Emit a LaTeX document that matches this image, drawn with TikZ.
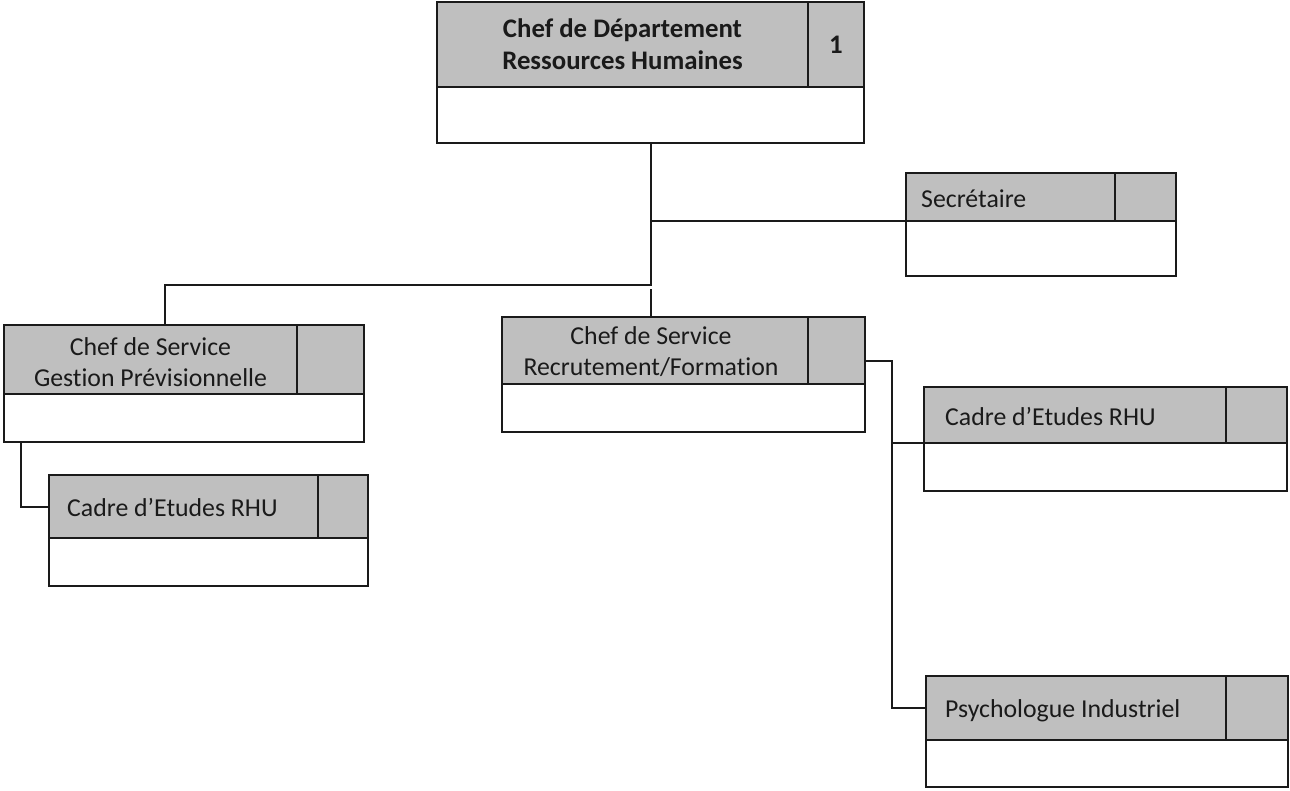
\documentclass[tikz,border=0pt]{standalone}
\usepackage{fontspec}
\setmainfont[Ligatures=NoCommon]{Carlito}
\usetikzlibrary{calc}
\definecolor{cellgray}{HTML}{BFBFBF}
\definecolor{ink}{HTML}{1A1A1A}
\tikzset{
  cell/.style={draw=ink, line width=2pt, inner sep=0pt, outer sep=0pt, anchor=north west},
  head/.style={cell, fill=cellgray},
  bodycell/.style={cell, fill=white},
  link/.style={draw=ink, line width=2pt},
  lbl/.style={text=ink, font=\fontsize{25.8}{31}\selectfont, inner sep=0pt},
  blbl/.style={text=ink, font=\fontsize{26.8}{32}\selectfont\bfseries, inner sep=0pt},
}
% one post: title cell, count cell, empty body below
% #1 name, #2 left x, #3 top y, #4 divider x, #5 right x, #6 header bottom y, #7 body bottom y
\newcommand{\orgpost}[7]{%
  \node[head, minimum width={(#4-#2)*1pt}, minimum height={(#6-#3)*1pt}] (#1-t) at (#2,#3) {};
  \node[head, minimum width={(#5-#4)*1pt}, minimum height={(#6-#3)*1pt}] (#1-c) at (#4,#3) {};
  \node[bodycell, minimum width={(#5-#2)*1pt}, minimum height={(#7-#6)*1pt}] (#1-b) at (#2,#6) {};
}
\begin{document}
\begin{tikzpicture}[x=1pt,y=-1pt]
\useasboundingbox[fill=white] (0,0) rectangle (1290,790);

% posts
\orgpost{chef}{437}{2}{808}{864}{87}{143}
\orgpost{sec}{906}{173}{1115}{1176}{221}{276}
\orgpost{gest}{4}{325}{297}{364}{394}{442}
\orgpost{cadl}{49}{475}{318}{368}{538}{586}
\orgpost{recr}{502}{317}{808}{865}{384}{432}
\orgpost{cadr}{924}{387}{1226}{1287}{443}{491}
\orgpost{psy}{926}{676}{1226}{1288}{740}{787}

% titles
\node[blbl, align=center] (chef-l) at ($(chef-t.center)+(0,0)$) {Chef de Département\\Ressources Humaines};
\node[blbl] (chef-n) at (chef-c.center) {1};
\node[lbl, anchor=west] (sec-l) at ($(sec-t.west)+(15,2)$) {Secrétaire};
\node[lbl, align=center] (gest-l) at ($(gest-t.center)+(0,3)$) {Chef de Service\\Gestion Prévisionnelle};
\node[lbl, anchor=west] (cadl-l) at ($(cadl-t.west)+(18,1)$) {Cadre d’Etudes RHU};
\node[lbl, align=center] (recr-l) at ($(recr-t.center)+(-4,1)$) {Chef de Service\\Recrutement/Formation};
\node[lbl, anchor=west] (cadr-l) at ($(cadr-t.west)+(21,1)$) {Cadre d’Etudes RHU};
\node[lbl, anchor=west] (psy-l) at ($(psy-t.west)+(19,3)$) {Psychologue Industriel};

% connectors
\coordinate (mainjoin) at (0,285);
\coordinate (gestdrop) at (165,0);
\coordinate (recrgap) at (0,289);
\coordinate (rightbus) at (892,361);
\coordinate (leftbus) at (21,0);

\draw[link] (chef-b.south) -- (chef-b.south |- mainjoin) -| (gestdrop |- gest-t.north);
\draw[link] (chef-b.south |- sec-t.south west) -- (sec-t.south west);
\draw[link] (chef-b.south |- recrgap) -- (chef-b.south |- recr-t.north);
\draw[link] (recr-c.east |- rightbus) -- (rightbus) |- (psy-t.west);
\draw[link] (rightbus |- cadr-t.south west) -- (cadr-t.south west);
\draw[link] (leftbus |- gest-b.south) |- (cadl-t.west);
\end{tikzpicture}
\end{document}
